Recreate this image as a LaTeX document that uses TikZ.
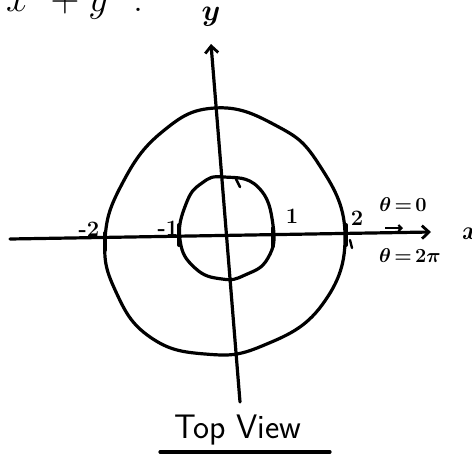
\RequirePackage{fix-cm}
\documentclass[tikz,border=0pt]{standalone}
\usepackage{amsmath}
\usepackage{bm}
\usetikzlibrary{arrows.meta}
\begin{document}
\begin{tikzpicture}[x=1pt,y=-1pt,
  pen/.style={line width=3.2pt,line cap=round,line join=round},
  tickmark/.style={line width=4pt,line cap=round},
  lab/.style={font=\fontsize{22}{22}\selectfont\bfseries},
  axtip/.style={-{Straight Barb[length=7pt,width=13pt,line width=2.8pt]}}]
\useasboundingbox (0,0) rectangle (472,458);
\clip (0,0) rectangle (472,458);
\fill[white] (0,0) rectangle (472,458);
% cropped top text
\node[anchor=base west,font=\fontsize{40}{40}\selectfont,inner sep=0] (eq) at (6,11) {$x^2+y^2$\;.};
% axes
\coordinate (xl) at (10,239);
\coordinate (xr) at (431,232);
\coordinate (yb) at (240,402);
\coordinate (yt) at (211,44);
\draw[pen,axtip] (xl) -- (xr);
\draw[pen,axtip] (yb) -- (yt);
\node[font=\fontsize{30}{30}\selectfont] (ylab) at (211,17) {$\bm{y}$};
\node[font=\fontsize{26}{26}\selectfont,anchor=west,inner sep=0] (xlab) at (462,234) {$\bm{x}$};
% outer curve
\draw[pen] plot[smooth cycle,tension=0.75] coordinates
 {(215,108) (275,125) (318,163) (345,233) (322,305) (262,346) (205,354) (150,337) (116,292) (105,240) (122,184) (162,132)};
% inner curve
\draw[pen] plot[smooth cycle,tension=0.8] coordinates
 {(224,177) (258,187) (273,225) (268,258) (245,275) (222,279) (195,268) (180,240) (186,204) (202,183)};
\draw[pen,line width=2.6pt] (236,179) -- (240,187);
% tick marks
\coordinate (tm2) at (105,240);
\coordinate (tm1) at (179,237);
\coordinate (tp1) at (273,236);
\coordinate (tp2) at (346,233);
\draw[tickmark] ([yshift=-10]tm2) -- ([yshift=7]tm2);
\draw[tickmark] ([yshift=-8]tm1) -- ([yshift=12]tm1);
\draw[tickmark] ([yshift=-10]tp1) -- ([yshift=8]tp1);
\draw[tickmark] ([yshift=-12]tp2) -- ([yshift=8]tp2);
\draw[pen,line width=2.4pt] (350,240) -- (352,248);
% labels
\node[lab] (lm2) at (89,229) {-2};
\node[lab] (lm1) at (168,228) {-1};
\node[lab] (lp1) at (292,216) {1};
\node[lab] (lp2) at (357,218) {2};
\node[font=\fontsize{20}{20}\selectfont] (th0) at (403,205) {$\bm{\theta\,{=}\,0}$};
\node[font=\fontsize{20}{20}\selectfont] (th2) at (410,256) {$\bm{\theta\,{=}\,2\pi}$};
\coordinate (sa) at (385,228);
\coordinate (sb) at (403,228);
\draw[line width=2.2pt,-{Straight Barb[length=3pt,width=6pt]}] (sa) -- (sb);
% caption
\node[font=\sffamily\fontsize{34}{34}\selectfont] (cap) at (238,430) {Top View};
\coordinate (ul) at (160,452);
\coordinate (ur) at (330,452);
\draw[pen] (ul) -- (ur);
\end{tikzpicture}
\end{document}
